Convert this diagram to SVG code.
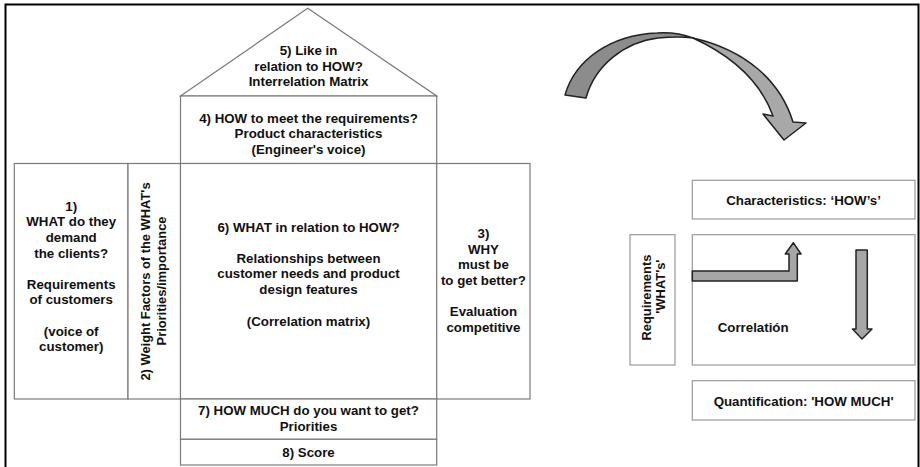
<svg xmlns="http://www.w3.org/2000/svg" width="920" height="467" viewBox="0 0 920 467">
<style>
.t{font-family:"Liberation Sans",Arial,sans-serif;font-weight:bold;font-size:13.3px;fill:#111;text-anchor:middle}
.b{fill:#fff;stroke:#7a7a7a;stroke-width:1.2}
.rb{fill:#fff;stroke:#999;stroke-width:1.2}
.ar{stroke:#222;stroke-width:1.5;stroke-linejoin:round}
</style>
<rect x="0" y="0" width="920" height="467" fill="#fff"/>
<rect x="5.5" y="4.5" width="913" height="480" fill="none" stroke="#000" stroke-width="2"/>

<g id="roof">
<polygon class="b" points="180.5,96 307.7,8.3 436.7,96"/>
<text class="t" x="308.5" y="55">5) Like in</text>
<text class="t" x="308.5" y="70.6">relation to HOW?</text>
<text class="t" x="308.5" y="86.2">Interrelation Matrix</text>
</g>
<g id="how">
<rect class="b" x="180.5" y="96" width="256.2" height="67.5"/>
<text class="t" x="308.5" y="122.5">4) HOW to meet the requirements?</text>
<text class="t" x="308.5" y="138">Product characteristics</text>
<text class="t" x="308.5" y="153.6">(Engineer's voice)</text>
</g>
<g id="what">
<rect class="b" x="14.3" y="163.5" width="113.7" height="235.5"/>
<text class="t" x="71.2" y="210.7">1)</text>
<text class="t" x="71.2" y="226.3">WHAT do they</text>
<text class="t" x="71.2" y="241.9">demand</text>
<text class="t" x="71.2" y="257.5">the clients?</text>
<text class="t" x="71.2" y="288.7">Requirements</text>
<text class="t" x="71.2" y="304.3">of customers</text>
<text class="t" x="71.2" y="335.5">(voice of</text>
<text class="t" x="71.2" y="351.1">customer)</text>
</g>
<g id="weights">
<rect class="b" x="128" y="163.5" width="52.5" height="235.5"/>
<text class="t" style="font-size:12.9px" transform="translate(149.6,281.5) rotate(-90)">2) Weight Factors of the WHAT's</text>
<text class="t" style="font-size:12.9px" transform="translate(165.6,281) rotate(-90)">Priorities/importance</text>
</g>
<g id="relations">
<rect class="b" x="180.5" y="163.5" width="256.2" height="235.5"/>
<text class="t" x="308.5" y="231.7">6) WHAT in relation to HOW?</text>
<text class="t" x="308.5" y="262.7">Relationships between</text>
<text class="t" x="308.5" y="278.3">customer needs and product</text>
<text class="t" x="308.5" y="293.9">design features</text>
<text class="t" x="308.5" y="325.5">(Correlation matrix)</text>
</g>
<g id="why">
<rect class="b" x="436.7" y="163.5" width="93.3" height="235.5"/>
<text class="t" x="483.4" y="238">3)</text>
<text class="t" x="483.4" y="253.6">WHY</text>
<text class="t" x="483.4" y="269.2">must be</text>
<text class="t" x="483.4" y="284.8">to get better?</text>
<text class="t" x="483.4" y="316">Evaluation</text>
<text class="t" x="483.4" y="331.6">competitive</text>
</g>
<g id="howmuch">
<rect class="b" x="180.5" y="399" width="256.2" height="40.3"/>
<text class="t" x="308.5" y="415">7) HOW MUCH do you want to get?</text>
<text class="t" x="308.5" y="430.6">Priorities</text>
</g>
<g id="score">
<rect class="b" x="180.5" y="439.3" width="256.2" height="25.7"/>
<text class="t" x="308.5" y="456.5">8) Score</text>
</g>

<g id="characteristics">
<rect class="rb" x="692.3" y="180.3" width="222.7" height="38.7"/>
<text class="t" x="803.6" y="204.8">Characteristics: ‘HOW’s’</text>
</g>
<g id="requirements">
<rect class="rb" x="630" y="234.7" width="45" height="130.3"/>
<text class="t" style="font-size:12.9px" transform="translate(651.3,297.6) rotate(-90)">Requirements</text>
<text class="t" style="font-size:12.9px" transform="translate(664.6,286.6) rotate(-90)">'WHAT's'</text>
</g>
<g id="correlation">
<rect class="rb" x="692.3" y="234.7" width="222.7" height="130.3"/>
<text class="t" x="717.7" y="331.5" style="text-anchor:start">Correlatión</text>
</g>
<g id="quantification">
<rect class="rb" x="692.3" y="380.7" width="222.7" height="39.3"/>
<text class="t" x="803.6" y="405.5">Quantification: 'HOW MUCH'</text>
</g>

<g id="connectors">
<path class="ar" fill="#8c8c8c" d="M565,95 C575,60 610,35 657,33 C672,32 685,35 693,38 C680,36 668,37 658,38 C625,42 595,65 586,98 Z"/>
<path class="ar" fill="#a8a8a8" d="M693,38 C745,50 780,80 793,122 L806,123 L784,140 L763,114 L773,116 C760,80 730,55 693,38 Z"/>
<path class="ar" fill="#a6a6a6" stroke-width="1.2" d="M692.3,271 L789,271 L789,254 L785.3,254 L793.3,242.7 L801,254 L797.3,254 L797.3,281 L692.3,281 Z"/>
<path class="ar" fill="#a6a6a6" stroke-width="1.2" d="M856,250 L867.3,250 L867.3,329 L872,329 L862,339 L852.5,329 L856,329 Z"/>
</g>
</svg>
